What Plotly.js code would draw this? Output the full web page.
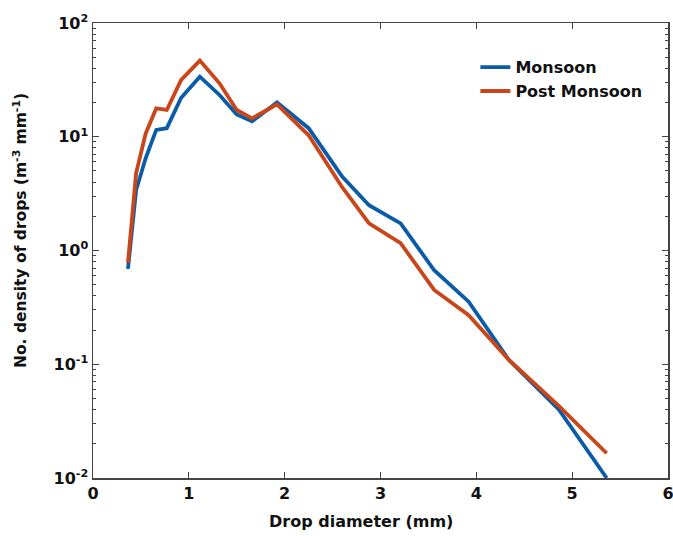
<!DOCTYPE html>
<html>
<head>
<meta charset="utf-8">
<script src="https://cdn.plot.ly/plotly-3.0.1.min.js"></script>
<style>html,body{margin:0;padding:0;background:#fff;}#chart{width:673px;height:536px;}</style>
</head>
<body>
<div id="chart"></div>
<script>
const diameter = [0.365, 0.45, 0.55, 0.66, 0.77, 0.92, 1.115, 1.32, 1.5, 1.66, 1.92, 2.25, 2.6, 2.88, 3.21, 3.56, 3.92, 4.34, 4.86, 5.36];
const monsoon = [0.69, 3.4, 6.5, 11.5, 11.9, 22, 33.7, 23.3, 15.7, 13.7, 20, 11.9, 4.46, 2.5, 1.73, 0.67, 0.355, 0.109, 0.040, 0.0100];
const postMonsoon = [0.78, 4.8, 10.7, 17.8, 17.2, 31.6, 46.7, 29.5, 17.2, 14.5, 19.3, 10.3, 3.6, 1.73, 1.16, 0.45, 0.27, 0.109, 0.043, 0.0165];
const yTickVals = [0.01, 0.1, 1, 10, 100];
const yTickText = ['10<sup>-2</sup>', '10<sup>-1</sup>', '10<sup>0</sup>', '10<sup>1</sup>', '10<sup>2</sup>'];
const xTickVals = [0, 1, 2, 3, 4, 5, 6];
const yMinorVals = [0.02,0.03,0.04,0.05,0.06,0.07,0.08,0.09, 0.2,0.3,0.4,0.5,0.6,0.7,0.8,0.9, 2,3,4,5,6,7,8,9, 20,30,40,50,60,70,80,90];
const xTitle = 'Drop diameter (mm)';
const yTitle = 'No. density of drops (m<sup>-3</sup> mm<sup>-1</sup>)';

const fontFam = 'DejaVu Sans, Verdana, sans-serif';
const traces = [
  {x: diameter, y: monsoon, type: 'scatter', mode: 'lines', name: 'Monsoon',
   line: {color: '#0b5ca6', width: 3.8}},
  {x: diameter, y: postMonsoon, type: 'scatter', mode: 'lines', name: 'Post Monsoon',
   line: {color: '#c9461b', width: 3.8}}
];
const layout = {
  width: 673, height: 536,
  margin: {l: 93, r: 5, t: 23, b: 58},
  paper_bgcolor: '#fff', plot_bgcolor: '#fff',
  font: {family: fontFam, size: 16, color: '#111', weight: 'bold'},
  showlegend: true,
  legend: {x: 0.665, y: 0.94, xanchor: 'left', yanchor: 'top', bgcolor: 'rgba(0,0,0,0)',
    font: {family: fontFam, size: 16, color: '#111', weight: 'bold'}, tracegroupgap: 0},
  xaxis: {range: [0, 6], tickvals: xTickVals, ticks: 'inside', ticklen: 6, tickcolor: '#444',
    showline: true, linecolor: '#444', linewidth: 1.5, mirror: 'ticks', showgrid: false, zeroline: false,
    ticklabeloverflow: 'allow',
    tickfont: {family: fontFam, size: 16, weight: 'bold', color: '#111'}},
  yaxis: {type: 'log', range: [-2, 2], tickvals: yTickVals, ticktext: yTickText, ticks: 'inside', ticklen: 6, tickcolor: '#444',
    showline: true, linecolor: '#444', linewidth: 1.5, mirror: 'ticks', showgrid: false, zeroline: false,
    ticklabeloverflow: 'allow',
    minor: {tickmode: 'array', tickvals: yMinorVals, ticks: 'inside', ticklen: 3, tickcolor: '#444', showgrid: false},
    tickfont: {family: fontFam, size: 16, weight: 'bold', color: '#111'}},
  annotations: [
    {text: xTitle, xref: 'paper', yref: 'paper', x: -0.03, y: -0.095, xanchor: 'center', yanchor: 'middle', showarrow: false,
     font: {family: fontFam, size: 16, weight: 'bold', color: '#111'}},
    {text: yTitle, xref: 'paper', yref: 'paper', x: -0.127, y: 0.545, xanchor: 'center', yanchor: 'middle', showarrow: false, textangle: -90,
     font: {family: fontFam, size: 15.5, weight: 'bold', color: '#111'}}
  ]
};
layout.annotations[0].x = (361 - 93) / 575;
Plotly.newPlot('chart', traces, layout, {displayModeBar: false, staticPlot: true});
</script>
</body>
</html>
